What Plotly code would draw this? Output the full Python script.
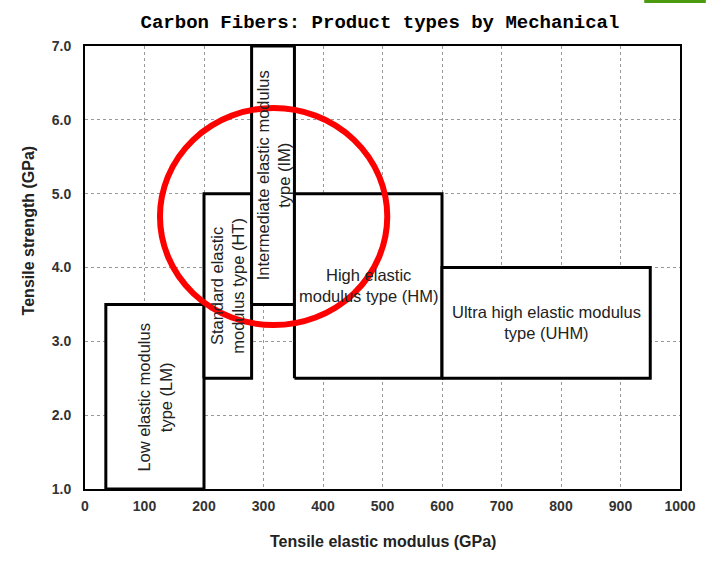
import plotly.graph_objects as go

# Product type boxes: modulus range (GPa) and strength range (GPa)
types = ["LM", "HT", "IM", "HM", "UHM"]
labels = [
    "Low elastic modulus<br>type (LM)",
    "Standard elastic<br>modulus type (HT)",
    "Intermediate elastic modulus<br>type (IM)",
    "High elastic<br>modulus type (HM)",
    "Ultra high elastic modulus<br>type (UHM)",
]
modulus_min = [35, 200, 280, 352, 600]
modulus_max = [200, 280, 352, 600, 950]
strength_min = [1.0, 2.5, 3.5, 2.5, 2.5]
strength_max = [3.5, 5.0, 7.0, 5.0, 4.0]
label_angle = [-90, -90, -90, 0, 0]

x_ticks = [0, 100, 200, 300, 400, 500, 600, 700, 800, 900, 1000]
y_ticks = [1.0, 2.0, 3.0, 4.0, 5.0, 6.0, 7.0]

L, R, T, B = 85, 24, 46, 74
W, H = 708, 563
PW, PH = W - L - R, H - T - B

fig = go.Figure()
for i, t in enumerate(types):
    x0, x1 = modulus_min[i], modulus_max[i]
    y0, y1 = strength_min[i], strength_max[i]
    fig.add_trace(go.Scatter(
        x=[x0, x1, x1, x0, x0], y=[y0, y0, y1, y1, y0],
        mode="lines", fill="toself", fillcolor="white",
        line=dict(color="black", width=3), name=t, hoverinfo="name",
    ))
    fig.add_annotation(
        x=(x0 + x1) / 2, y=(y0 + y1) / 2, text=labels[i], showarrow=False,
        textangle=label_angle[i],
        font=dict(family="Liberation Sans, Arial", size=16.5, color="#222"),
    )

# Red highlight circle
fig.add_shape(type="circle", xref="x", yref="y", x0=126, x1=508, y0=3.22, y1=6.16,
              line=dict(color="#ff0000", width=6), layer="above")

# Green bar at top right
fig.add_shape(type="rect", xref="paper", yref="paper",
              x0=(648 - L) / PW, x1=(710 - L) / PW,
              y0=1 + (T - 3) / PH, y1=1 + (T + 2) / PH,
              line=dict(width=0), fillcolor="#4c9a10")

fig.add_annotation(
    xref="paper", yref="paper", x=(28 - L) / PW, y=(H - B - 230) / PH,
    xanchor="center", yanchor="middle",
    text="<b>Tensile strength (GPa)</b>", textangle=-90, showarrow=False,
    font=dict(family="Liberation Sans, Arial", size=16, color="#222"),
)
fig.add_annotation(
    xref="paper", yref="paper", x=(385 - L) / PW, y=-(541 - (H - B)) / PH,
    xanchor="center", yanchor="middle",
    text="<b>Tensile elastic modulus (GPa)</b>", showarrow=False,
    font=dict(family="Liberation Sans, Arial", size=16, color="#222"),
)

tickfont = dict(family="Liberation Sans, Arial", size=14, color="#333", weight="bold")
fig.update_layout(
    width=W, height=H,
    margin=dict(l=L, r=R, t=T, b=B),
    paper_bgcolor="white", plot_bgcolor="white",
    showlegend=False,
    title=dict(
        text="Carbon Fibers: Product types by Mechanical",
        x=380 / W, xanchor="center", y=1 - 21 / H, yanchor="middle",
        font=dict(family="Liberation Mono, Courier New", size=19, color="black", weight="bold"),
    ),
    xaxis=dict(
        range=[0, 1000], tickvals=x_ticks, ticktext=[str(v) for v in x_ticks],
        showgrid=True, gridcolor="#999", griddash="dot", gridwidth=1,
        showline=True, linecolor="black", linewidth=2, mirror=True,
        ticks="", zeroline=False, ticklabelstandoff=3,
        tickfont=tickfont,
    ),
    yaxis=dict(
        range=[1, 7], tickvals=y_ticks, ticktext=[f"{v:.1f}" for v in y_ticks],
        showgrid=True, gridcolor="#999", griddash="dot", gridwidth=1,
        showline=True, linecolor="black", linewidth=2, mirror=True,
        ticks="", zeroline=False, ticklabelstandoff=9,
        tickfont=tickfont,
    ),
)

fig.write_html("out.html", config={"displayModeBar": False},
               post_script="document.body.style.margin='0px';")
